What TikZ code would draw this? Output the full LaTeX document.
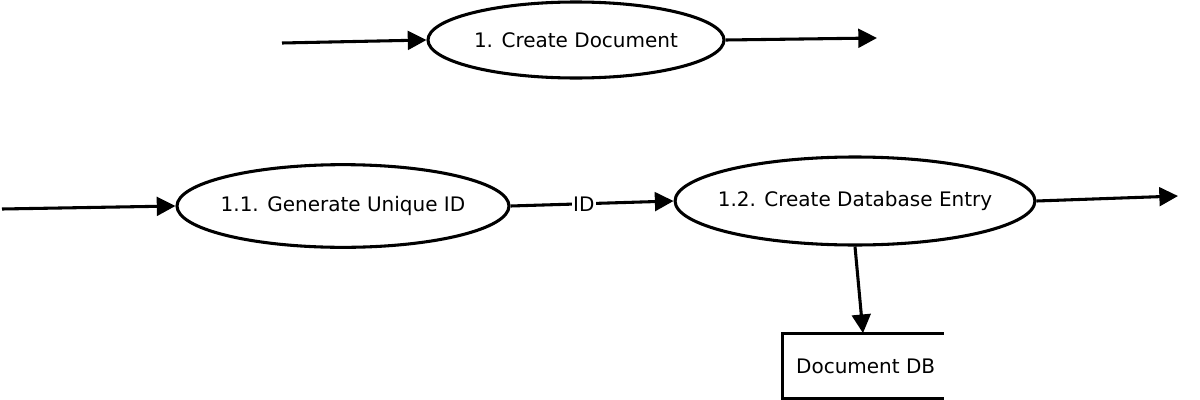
\documentclass[tikz,border=0pt]{standalone}
\usepackage{fontspec}
\setmainfont{DejaVu Sans}
\usetikzlibrary{shapes.geometric,arrows.meta}

\tikzset{every picture/.style={line width=2.3pt}}
\tikzset{
  process/.style={draw, ellipse, inner xsep=-7.5pt, inner ysep=0pt, font=\fontsize{15}{18}\selectfont},
  flow/.style={-{Triangle[length=14pt,width=14pt]}},
}

\begin{document}
\begin{tikzpicture}[x=0.75pt,y=0.75pt,yscale=-1,xscale=1]
	\useasboundingbox (0,0) rectangle (1200,400);

	% Top level process
	\node [process, minimum width=222pt, minimum height=57pt] (create) at (576,40) {1. Create Document};
	\coordinate (createin) at (282,43);
	\coordinate (createout) at (877,38);
	\draw [flow] (createin) -- (create.west);
	\draw [flow] (create.east) -- (createout);

	% Level 1 processes
	\node [process, minimum width=249pt, minimum height=62pt] (genid) at (343,206) {1.1. Generate Unique ID};
	\node [process, minimum width=267pt, minimum height=66pt] (entry) at (855,201) {1.2. Create Database Entry};
	\coordinate (genin) at (2,209);
	\coordinate (entryout) at (1178,196);
	\draw [flow] (genin) -- (genid.west);
	\draw [flow] (genid.east) -- node [fill=white, inner sep=1pt, font=\fontsize{15}{18}\selectfont, pos=0.45] {ID} (entry.west);
	\draw [flow] (entry.east) -- (entryout);

	% Data store
	\node [minimum width=118.5pt, minimum height=47pt, inner sep=0pt, font=\fontsize{15}{18}\selectfont] (store) at (863,366) {\hspace{4pt}Document DB};
	\draw (store.north east) -- (store.north west) -- (store.south west) -- (store.south east);
	\draw [flow] (entry.south) -- (store.north);

\end{tikzpicture}
\end{document}
